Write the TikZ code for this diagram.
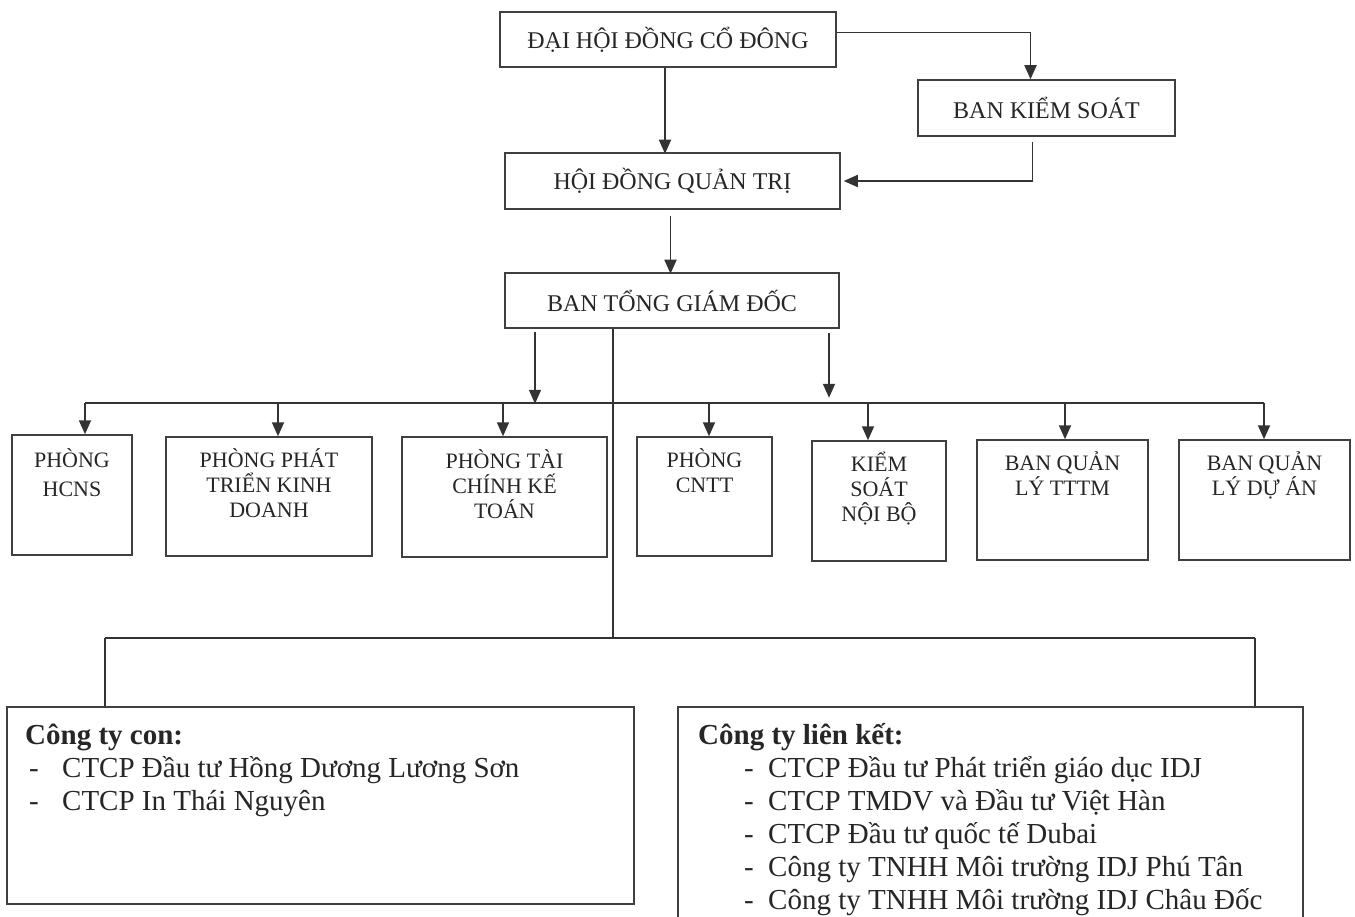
\documentclass[tikz,border=0pt]{standalone}
\usepackage{fontspec}
\setmainfont{Liberation Serif}
\usetikzlibrary{arrows.meta}
\begin{document}
\begin{tikzpicture}[x=1pt,y=-1pt,
  ln/.style={draw=black!80, line width=1.8pt},
  arr/.style={ln, -{Triangle[length=14pt,width=12pt]}},
  topbox/.style={draw=black!75, line width=1.5pt, rectangle, inner sep=0pt, font=\fontsize{24}{28}\selectfont, text=black!85},
  dbox/.style={draw=black!75, line width=1.5pt, rectangle, inner sep=0pt},
  dtext/.style={align=center, inner sep=0pt, font=\fontsize{22}{25}\selectfont, anchor=north, text=black!85},
  btext/.style={align=left, inner sep=0pt, font=\fontsize{29}{33}\selectfont, anchor=base west, text=black!85},
]
\useasboundingbox (0,0) rectangle (1355,917);
\fill[white] (0,0) rectangle (1355,917);

% top boxes
\node[topbox, minimum width=336, minimum height=55] (dh) at (668,39.5) {ĐẠI HỘI ĐỒNG CỔ ĐÔNG};
\node[topbox, minimum width=257, minimum height=56] (bks) at (1046.5,108) {BAN KIỂM SOÁT};
\node[topbox, minimum width=335, minimum height=56] (hd) at (672.5,181) {HỘI ĐỒNG QUẢN TRỊ};
\node[topbox, minimum width=334, minimum height=55] (bt) at (672,300.5) {BAN TỔNG GIÁM ĐỐC};

% departments
\node[dbox, minimum width=120, minimum height=120] (hcns) at (72,495) {};
\node[dbox, minimum width=206, minimum height=119] (ptkd) at (269,496.5) {};
\node[dbox, minimum width=205, minimum height=120] (tckt) at (504.5,497) {};
\node[dbox, minimum width=135, minimum height=119] (cntt) at (704.5,496.5) {};
\node[dbox, minimum width=134, minimum height=120] (ksnb) at (879,501) {};
\node[dbox, minimum width=171, minimum height=120] (tttm) at (1062.5,500) {};
\node[dbox, minimum width=171, minimum height=120] (qlda) at (1264.5,500) {};

\node[dtext, font=\fontsize{22}{29}\selectfont] (t1) at ([yshift=-14]hcns.north) {PHÒNG\\HCNS};
\node[dtext] (t2) at ([yshift=-12]ptkd.north) {PHÒNG PHÁT\\TRIỂN KINH\\DOANH};
\node[dtext] (t3) at ([yshift=-13]tckt.north) {PHÒNG TÀI\\CHÍNH KẾ\\TOÁN};
\node[dtext] (t4) at ([yshift=-12]cntt.north) {PHÒNG\\CNTT};
\node[dtext] (t5) at ([yshift=-12]ksnb.north) {KIỂM\\SOÁT\\NỘI BỘ};
\node[dtext] (t6) at ([yshift=-12]tttm.north) {BAN QUẢN\\LÝ TTTM};
\node[dtext] (t7) at ([yshift=-12]qlda.north) {BAN QUẢN\\LÝ DỰ ÁN};

% bottom boxes
\node[dbox, minimum width=627, minimum height=197] (con) at (320.5,805.5) {};
\node[dbox, minimum width=625, minimum height=240] (lk) at (990.5,827) {};

\node[btext] (tc) at (25,810) {\textbf{Công ty con:}\\
\hspace*{4pt}\makebox[33pt][l]{-}CTCP Đầu tư Hồng Dương Lương Sơn\\
\hspace*{4pt}\makebox[33pt][l]{-}CTCP In Thái Nguyên};
\node[btext] (tl) at (698,909) {\textbf{Công ty liên kết:}\\
\hspace*{46pt}\makebox[24pt][l]{-}CTCP Đầu tư Phát triển giáo dục IDJ\\
\hspace*{46pt}\makebox[24pt][l]{-}CTCP TMDV và Đầu tư Việt Hàn\\
\hspace*{46pt}\makebox[24pt][l]{-}CTCP Đầu tư quốc tế Dubai\\
\hspace*{46pt}\makebox[24pt][l]{-}Công ty TNHH Môi trường IDJ Phú Tân\\
\hspace*{46pt}\makebox[24pt][l]{-}Công ty TNHH Môi trường IDJ Châu Đốc};

% top connectors
\draw[arr] ([xshift=-3]dh.south) -- ++(0,86);
\draw[arr] ([yshift=7]dh.east) -| ([xshift=-16]bks.north);
\draw[arr] ([xshift=-14,yshift=-5]bks.south) |- ([xshift=3]hd.east);
\draw[arr] ([xshift=-2,yshift=-6]hd.south) -- ++(0,58);

% BTGD to departments
\coordinate (dL) at (85,403);
\coordinate (dR) at (1264,403);
\coordinate (d2) at (278,403);
\coordinate (d3) at (503,403);
\coordinate (d4) at (709,403);
\coordinate (d5) at (868,403);
\coordinate (d6) at (1065,403);
\draw[arr] ([xshift=-137,yshift=-3]bt.south) -- ++(0,72);
\draw[arr] ([xshift=157,yshift=-4]bt.south) -- ++(0,65);
\draw[ln] (dL) -- (dR);
\draw[arr] (dL) -- (dL |- hcns.north);
\draw[arr] (d2) -- (d2 |- ptkd.north);
\draw[arr] (d3) -- (d3 |- tckt.north);
\draw[arr] (d4) -- (d4 |- cntt.north);
\draw[arr] (d5) -- (d5 |- ksnb.north);
\draw[arr] (d6) -- (d6 |- tttm.north);
\draw[arr] (dR) -- (dR |- qlda.north);

% BTGD to companies
\coordinate (bb) at (613,638);
\coordinate (bL) at (105,638);
\coordinate (bR) at (1255,638);
\draw[ln] (bt.south -| bb) -- (bb);
\draw[ln] (bL) -- (bR);
\draw[ln] (bL) -- (bL |- con.north);
\draw[ln] (bR) -- (bR |- lk.north);
\end{tikzpicture}
\end{document}
